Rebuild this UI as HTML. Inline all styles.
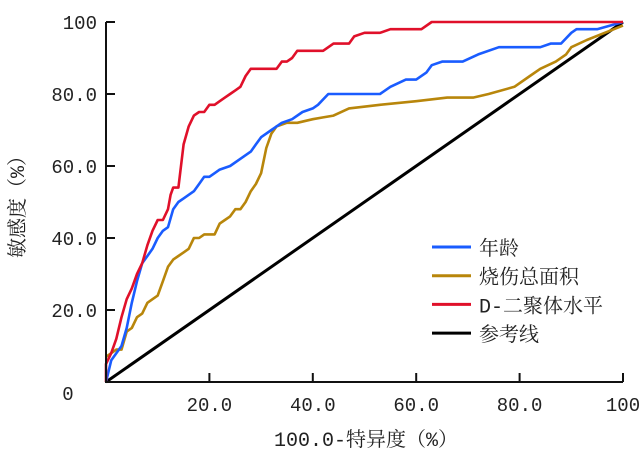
<!DOCTYPE html>
<html><head><meta charset="utf-8"><style>
body{margin:0;background:#fff}
svg{display:block}
text{font-family:"Liberation Mono","Noto Serif CJK SC",monospace;fill:#222}
.cjk{font-family:"Liberation Mono","Noto Serif CJK SC",serif}
</style></head><body>
<svg width="643" height="459" viewBox="0 0 643 459" xmlns="http://www.w3.org/2000/svg">
<g id="plot"></g>
<g id="axes"></g>
<g id="legend"></g>
<text class="cjk" x="366" y="446" font-size="20" text-anchor="middle">100.0-特异度（%）</text>
<text class="cjk" transform="translate(24,202) rotate(-90)" font-size="20" text-anchor="middle">敏感度（%）</text>
</svg>
<script>
const seriesNames=["年龄","烧伤总面积","D-二聚体水平","参考线"];
const seriesColors=["#1a5cff","#b8860b","#e0102a","#000000"];
const ageX=[0,1,2,3,4,5,6,7,8,9,10,11,12,13,14,15,17,18,19,20,21,22,24,26,28,29,30,32,34,36,38,40,41,43,53,55,58,60,62,63,65,69,72,76,84,86,88,90,91,95,100];
const ageY=[0,6,8,10,15,22,28,33,35,37,40,42,43,48,50,51,53,55,57,57,58,59,60,62,64,66,68,70,72,73,75,76,77,80,80,82,84,84,86,88,89,89,91,93,93,94,94,97,98,98,100];
const burnX=[0,1,2,3,4,5,6,7,8,9,10,11,12,13,14,15,16,17,18,19,21,22,23,24,25,26,27,28,29,30,31,32,33,35,37,40,42,44,47,53,60,66,71,74,79,82,84,87,89,90,93,100];
const burnY=[7,8,9,9,14,15,18,19,22,23,24,28,32,34,35,36,37,40,40,41,41,44,45,46,48,48,50,53,55,58,65,69,71,72,72,73,73.5,74,76,77,78,79,79,80,82,85,87,89,91,93,95,99];
const dX=[0,0,1,2,3,4,5,6,7,8,9,10,11,12,12.5,13,14,14.5,15,16,17,18,19,20,21,22,23,24,25,26,27,28,33,34,35,36,37,42,43,44,47,48,50,53,55,61,63,100];
const dY=[0,5,8,12,18,23,26,30,33,38,42,45,45,48,52,54,54,60,66,71,74,75,75,77,77,78,79,80,81,82,85,87,87,89,89,90,92,92,93,94,94,96,97,97,98,98,100,100];
const refX=[0,100];
const refY=[0,100];
const xTicks=[20,40,60,80,100];
const xTickLabels=["20.0","40.0","60.0","80.0","100"];
const yTicks=[20,40,60,80,100];
const yTickLabels=["20.0","40.0","60.0","80.0","100"];
const X0=106,X1=623,Y0=382,Y1=22;
const sx=v=>X0+(X1-X0)*v/100, sy=v=>Y0-(Y0-Y1)*v/100;
const NS="http://www.w3.org/2000/svg";
function mk(t,a,p){const e=document.createElementNS(NS,t);for(const k in a)e.setAttribute(k,a[k]);p.appendChild(e);return e;}
const plot=document.getElementById('plot'),axes=document.getElementById('axes'),legend=document.getElementById('legend');
const series=[[refX,refY,3,"reference-line"],[burnX,burnY,2.6,"burn-area-curve"],[ageX,ageY,2.6,"age-curve"],[dX,dY,2.6,"d-dimer-curve"]];
const colorIdx={"reference-line":3,"burn-area-curve":1,"age-curve":0,"d-dimer-curve":2};
series.forEach(s=>{
 const d=s[0].map((x,i)=>(i?'L':'M')+sx(x).toFixed(1)+','+sy(s[1][i]).toFixed(1)).join('');
 const p=mk('path',{d:d,fill:'none',stroke:seriesColors[colorIdx[s[3]]],'stroke-width':s[2],'stroke-linejoin':'round'},plot);
 
 
});
let a=mk('path',{d:`M${X0},${Y1}V${Y0}H${X1}`,fill:'none',stroke:'#111','stroke-width':2},axes);


xTicks.forEach((v,i)=>{
 mk('line',{x1:sx(v),x2:sx(v),y1:Y0,y2:Y0-9,stroke:'#111','stroke-width':2},axes);
 const t=mk('text',{x:sx(v),y:411,'font-size':19,'text-anchor':'middle'},axes);t.textContent=xTickLabels[i];
 
 
});
yTicks.forEach((v,i)=>{
 mk('line',{x1:X0,x2:X0+9,y1:sy(v),y2:sy(v),stroke:'#111','stroke-width':2},axes);
 const t=mk('text',{x:97,y:sy(v)+7,'font-size':19,'text-anchor':'end'},axes);t.textContent=yTickLabels[i];
 
 
});
const z=mk('text',{x:68,y:400,'font-size':19,'text-anchor':'middle'},axes);z.textContent="0";


seriesNames.forEach((n,i)=>{
 const y=247+i*28.7;
 const l=mk('line',{x1:432,x2:471,y1:y,y2:y,stroke:seriesColors[i],'stroke-width':3},legend);
 
 
 const t=mk('text',{x:479,y:y+8,'font-size':20,class:'cjk'},legend);t.textContent=n;
 
 
});
</script>
</body></html>
